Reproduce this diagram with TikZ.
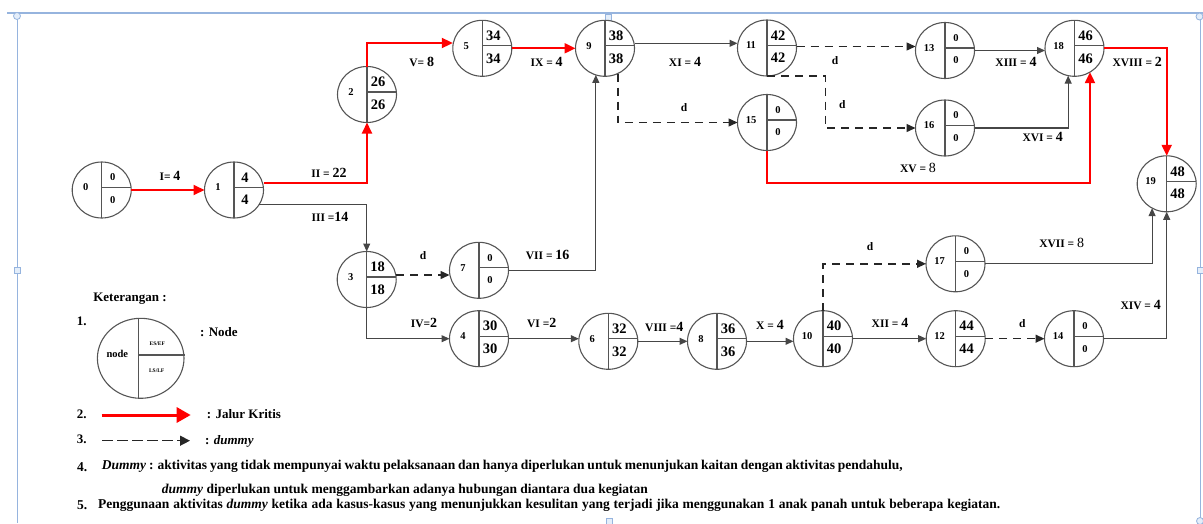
\documentclass[tikz,border=0pt]{standalone}
\usepackage{fontspec}
\setmainfont{Liberation Serif}
\usetikzlibrary{arrows.meta,shapes.geometric,calc}
\definecolor{frameblue}{RGB}{150,180,222}
\definecolor{handlefill}{RGB}{228,238,250}
\definecolor{critred}{RGB}{255,0,0}
\definecolor{linegray}{RGB}{70,70,70}
\definecolor{circgray}{RGB}{85,85,85}
\tikzset{
 pnode/.style={ellipse, draw=circgray, line width=1.1pt, minimum width=59pt, minimum height=56pt, inner sep=0pt, outer sep=0pt},
 divl/.style={draw=circgray, line width=1.1pt},
 nnum/.style={font=\bfseries\fontsize{10.5}{10.5}\selectfont, inner sep=0pt},
 nval/.style={font=\bfseries\fontsize{14.5}{14.5}\selectfont, inner sep=0pt},
 zval/.style={font=\bfseries\fontsize{10.5}{10.5}\selectfont, inner sep=0pt},
 crit/.style={draw=critred, line width=2pt, -{Triangle[length=11pt,width=10pt]}},
 act/.style={draw=linegray, line width=1.1pt, -{Triangle[length=8pt,width=7pt]}},
 dum/.style={draw=black!85, line width=1.4pt, dash pattern=on 8pt off 6pt, -{Triangle[length=9pt,width=8pt]}},
 elab/.style={font=\bfseries\fontsize{11.5}{11.5}\selectfont, inner sep=0pt},
 leg/.style={font=\bfseries\fontsize{13}{13}\selectfont, inner sep=0pt},
 btxt/.style={font=\bfseries\fontsize{13.5}{13.5}\selectfont, inner sep=0pt, anchor=west},
 handle/.style={draw=frameblue, fill=handlefill, line width=0.8pt},
}
\newcommand\bn[1]{{\fontsize{14}{14}\selectfont #1}}
\newcommand\bnm[1]{{\mdseries\fontsize{14}{14}\selectfont #1}}
\newcommand\PN[7]{%
 \node[pnode] (#1) at (#2,#3) {};
 \draw[divl] (#1.north) -- (#1.south);
 \draw[divl] ([yshift=2.5pt]#1.center) -- ([yshift=2.5pt]#1.east);
 \node[nnum] (#1-n) at ([xshift=-16pt,yshift=2.5pt]#1.center) {#4};
 \node[#7] (#1-t) at ([xshift=11pt,yshift=12.5pt]#1.center) {#5};
 \node[#7] (#1-b) at ([xshift=11pt,yshift=-10pt]#1.center) {#6};
}
\begin{document}
\begin{tikzpicture}[x=1pt,y=-1pt]
\useasboundingbox (0,0) rectangle (1203,523);
% frame
\draw[frameblue, line width=1.6pt] (7,13) -- (1203,13);
\draw[frameblue, line width=1pt] (17,13) -- (17,523);
\draw[frameblue, line width=1pt] (1200,13) -- (1200,523);
\draw[handle] (17,16) circle (3.5pt);
\draw[handle] (1199.5,16.5) circle (3.5pt);
\draw[handle] (1200,521) circle (3.5pt);
\draw[handle] (605,14) rectangle (611,20);
\draw[handle] (14,267) rectangle (20,273);
\draw[handle] (1197,267) rectangle (1203,273);
\draw[handle] (606,518) rectangle (612,524);
% nodes
\PN{n0}{101.7}{190}{0}{0}{0}{zval}
\PN{n1}{234}{190}{1}{4}{4}{nval}
\PN{n2}{367}{94.5}{2}{26}{26}{nval}
\PN{n3}{366.7}{279.5}{3}{18}{18}{nval}
\PN{n5}{482.3}{48.3}{5}{34}{34}{nval}
\PN{n9}{605}{48.3}{9}{38}{38}{nval}
\PN{n11}{767}{48}{11}{42}{42}{nval}
\PN{n15}{767}{122.5}{15}{0}{0}{zval}
\PN{n13}{945}{50.5}{13}{0}{0}{zval}
\PN{n18}{1074.5}{48.3}{18}{46}{46}{nval}
\PN{n16}{945}{128}{16}{0}{0}{zval}
\PN{n19}{1166.7}{183.8}{19}{48}{48}{nval}
\PN{n7}{479}{270.3}{7}{0}{0}{zval}
\PN{n4}{479}{338.7}{4}{30}{30}{nval}
\PN{n6}{608.3}{341.3}{6}{32}{32}{nval}
\PN{n8}{717}{341.3}{8}{36}{36}{nval}
\PN{n10}{823}{338.7}{10}{40}{40}{nval}
\PN{n12}{955.7}{338.7}{12}{44}{44}{nval}
\PN{n14}{1074}{338.7}{14}{0}{0}{zval}
\PN{n17}{955.5}{263.8}{17}{0}{0}{zval}
% critical path
\draw[crit] (n0.east) -- (n1.west);
\draw[crit] ([yshift=7.3pt]n1.east) -| (n2.south);
\draw[crit] (n2.north) |- ([yshift=5.3pt]n5.west);
\draw[crit] (n5.east) -- (n9.west);
\coordinate (xv) at (900,182.7);
\draw[crit] (n15.south) |- (n18.-57 |- xv) -- (n18.-57);
\draw[crit] (n18.east) -| (n19.north);
% activities
\draw[act] (n1.-29) -| (n3.north);
\draw[act] ([yshift=5pt]n9.east) -- ([yshift=5pt]n9.east -| n11.west);
\draw[act] (n7.east) -| (n9.-109);
\draw[act] (n3.south) |- (n4.west);
\draw[act] (n4.east) -- (n4.east -| n6.west);
\draw[act] (n6.east) -- (n8.west);
\draw[act] (n8.east) -- (n8.east -| n10.west);
\draw[act] (n10.east) -- (n12.west);
\draw[act] (n14.east) -| (n19.south);
\draw[act] (n17.east) -| (n19.-121);
\draw[act] (n13.east) -- (n13.east -| n18.west);
\draw[act] (n16.east) -| (n18.-103);
% dummies
\draw[dum] (n9.-63) |- (n15.west);
\draw[dum] ([yshift=4.5pt]n3.east) -- ([yshift=4.5pt]n3.east -| n7.west);
\draw[dum] (n10.north) |- (n17.west);
\draw[dum] (n12.east) -- (n14.west);
\draw[dum] ([yshift=1.5pt]n11.east) -- ([yshift=1.5pt]n11.east -| n13.west);
\draw[dum] (n11.south) -| ($(n16.west)+(-90,0)$) -- (n16.west);
% edge labels
\node[elab] (lI) at (170,176) {I= \bn{4}};
\node[elab] (lII) at (329,173) {II = \bn{22}};
\node[elab] (lIII) at (330,216.7) {III =\bn{14}};
\node[elab] (lV) at (421.7,61.7) {V= \bn{8}};
\node[elab] (lIX) at (546.7,61.7) {IX = \bn{4}};
\node[elab] (lXI) at (685,62) {XI = \bn{4}};
\node[elab] (d1) at (684,107.7) {d};
\node[elab] (lVII) at (547.7,255) {VII = \bn{16}};
\node[elab] (d2) at (423,256) {d};
\node[elab] (lIV) at (424,322.7) {IV=\bn{2}};
\node[elab] (lVI) at (541.7,323.3) {VI =\bn{2}};
\node[elab] (lVIII) at (664.3,326.7) {VIII =\bn{4}};
\node[elab] (lX) at (770,325) {X = \bn{4}};
\node[elab] (d3) at (870,246.7) {d};
\node[elab] (lXII) at (890,323.3) {XII = \bn{4}};
\node[elab] (d4) at (1022.3,324) {d};
\node[elab] (lXIV) at (1140.7,305) {XIV = \bn{4}};
\node[elab] (lXVII) at (1061.7,243.3) {XVII = \bnm{8}};
\node[elab] (d5) at (835,61) {d};
\node[elab] (d6) at (842.3,105) {d};
\node[elab] (lXIII) at (1016,61.7) {XIII = \bn{4}};
\node[elab] (lXVI) at (1042.7,137.3) {XVI = \bn{4}};
\node[elab] (lXV) at (918,168) {XV = \bnm{8}};
\node[elab] (lXVIII) at (1137.3,61.7) {XVIII = \bn{2}};
% legend
\node[leg] (ket) at (130,298.3) {Keterangan :};
\node[leg] (k1) at (81.7,321.7) {1.};
\node[leg] (k2) at (81.7,414) {2.};
\node[leg] (k3) at (81.7,439) {3.};
\node[ellipse, draw=circgray, line width=1.1pt, minimum width=86.6pt, minimum height=80pt, inner sep=0pt] (lg) at (140.7,358.3) {};
\draw[divl] ([xshift=-2.4pt]lg.north) -- ([xshift=-2.4pt]lg.south);
\draw[divl] ([xshift=-2.4pt,yshift=3.3pt]lg.center) -- ([yshift=3.3pt]lg.east);
\node[font=\bfseries\fontsize{10.5}{10.5}\selectfont, inner sep=0pt] (lgn) at (117.3,354) {node};
\node[font=\bfseries\fontsize{5.5}{5.5}\selectfont, inner sep=0pt] (lgt) at (157.3,344) {ES/EF};
\node[font=\bfseries\fontsize{5.5}{5.5}\selectfont, inner sep=0pt] (lgb) at (156.7,370.7) {LS/LF};
\node[leg, anchor=west] (lnode) at (200,331.7) {: Node};
\coordinate (r1) at (101.7,415);
\coordinate (r2) at (190.7,415);
\draw[draw=critred, line width=3pt, -{Triangle[length=14pt,width=15pt]}] (r1) -- (r2);
\node[leg, anchor=west] (ljk) at (206.7,414) {: Jalur Kritis};
\coordinate (s1) at (102,440.7);
\coordinate (s2) at (190,440.7);
\draw[draw=black!85, line width=1.4pt, dash pattern=on 10.5pt off 4.5pt, -{Triangle[length=10pt,width=10pt]}] (s1) -- (s2);
\node[leg, anchor=west] (ldm) at (205,441) {: \textit{dummy}};
% bottom text
\node[btxt] (t4n) at (77,466.7) {4.};
\node[btxt] (t4) at (101.7,466.7) {\makebox[801pt][s]{\textit{Dummy} : aktivitas yang tidak mempunyai waktu pelaksanaan dan hanya diperlukan untuk menunjukan kaitan dengan aktivitas pendahulu,}};
\node[btxt] (t4b) at (161.7,490) {\makebox[486pt][s]{\textit{dummy} diperlukan untuk menggambarkan adanya hubungan diantara dua kegiatan}};
\node[btxt] (t5n) at (77,505) {5.};
\node[btxt] (t5) at (98,505) {\makebox[902pt][s]{Penggunaan aktivitas \textit{dummy} ketika ada kasus-kasus yang menunjukkan kesulitan yang terjadi jika menggunakan 1 anak panah untuk beberapa kegiatan.}};
\end{tikzpicture}
\end{document}
